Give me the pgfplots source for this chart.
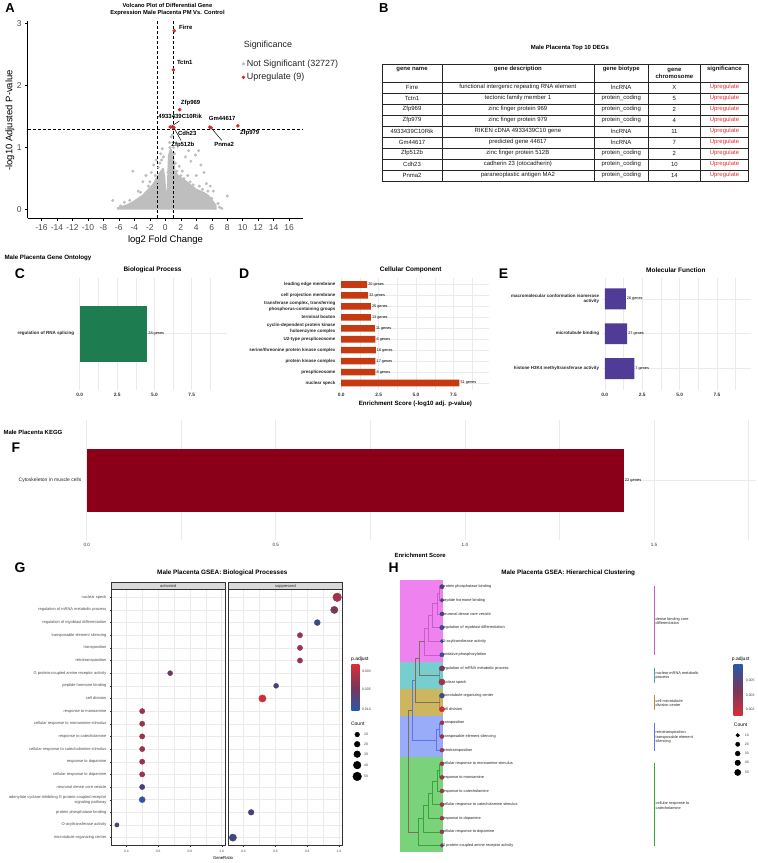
\documentclass[border=0pt]{standalone}
\usepackage{fontspec}
\setmainfont{Liberation Sans}
\usepackage{pgfplots}
\pgfplotsset{compat=1.18}
\newcommand\fs[1]{\fontsize{#1}{\dimexpr#1pt*6/5\relax}\selectfont}
\definecolor{cgrey}{RGB}{190,190,190}
\definecolor{cred}{RGB}{214,40,45}
\definecolor{cgreen}{RGB}{30,125,80}
\definecolor{corange}{RGB}{198,58,18}
\definecolor{cpurple}{RGB}{80,60,150}
\definecolor{cdarkred}{RGB}{139,0,24}
\definecolor{gridc}{RGB}{235,235,235}
\definecolor{stripc}{RGB}{217,217,217}
\definecolor{upred}{RGB}{230,50,50}
\definecolor{pbred}{RGB}{214,46,60}
\definecolor{pbmid}{RGB}{120,55,90}
\definecolor{pbblue}{RGB}{40,88,170}
\definecolor{hmag}{RGB}{238,130,238}
\definecolor{hteal}{RGB}{118,206,206}
\definecolor{holive}{RGB}{204,183,96}
\definecolor{hblue}{RGB}{152,172,250}
\definecolor{hgreen}{RGB}{122,210,122}
\definecolor{lmag}{RGB}{205,90,205}
\definecolor{lteal}{RGB}{70,170,170}
\definecolor{lolive}{RGB}{170,145,50}
\definecolor{lblue}{RGB}{95,115,230}
\definecolor{lgreen}{RGB}{55,165,55}
\definecolor{lgrey}{RGB}{130,110,95}
\pgfplotsset{
  /pgf/number format/assume math mode=true,
  colormap={rb}{rgb255(0cm)=(214,46,60) rgb255(1cm)=(160,52,75) rgb255(2cm)=(115,55,90) rgb255(3cm)=(72,66,115) rgb255(4cm)=(40,88,170)},
  onedec/.style={/pgf/number format/fixed, /pgf/number format/fixed zerofill, /pgf/number format/precision=1},
  gobar/.style={scale only axis, anchor=north west, axis line style={draw=none},
    major tick length=0pt, minor tick length=0pt,
    xmajorgrids, xminorgrids, ymajorgrids,
    major grid style={gridc, line width=0.6pt}, minor grid style={gridc, line width=0.35pt},
    y dir=reverse, xtick={0,2.5,5,7.5}, minor xtick={1.25,3.75,6.25,8.75},
    xticklabel style={font=\bfseries\fs{4.8}, text=black!80, onedec},
    yticklabel style={font=\bfseries\fs{4.5}, text=black!85, align=right},
    xmin=-0.15, xmax=9.85, clip=false},
  gsea/.style={scale only axis, anchor=north west, width=114pt, height=256.3pt,
    xmin=0.306, xmax=1.021, ymin=0.4, ymax=20.6, y dir=reverse,
    xtick={0.4,0.6,0.8,1.0}, minor xtick={0.3,0.5,0.7,0.9}, ytick={1,...,20},
    xmajorgrids, xminorgrids, ymajorgrids,
    major grid style={gridc, line width=0.4pt}, minor grid style={gridc, line width=0.2pt},
    axis line style={black!80, line width=0.5pt}, tick style={black!80, line width=0.3pt},
    major tick length=1.5pt, minor tick length=0pt, tick align=outside,
    xtick pos=left, ytick pos=left,
    xticklabel style={font=\fs{3.3}, text=black!70, onedec},
    yticklabel style={font=\fs{4}, text=black!70, align=right},
    colormap name=rb, point meta min=0.002, point meta max=0.0105, clip=false},
  dot/.style={scatter, only marks, mark=*, scatter/use mapped color={draw=mapped color, fill=mapped color},
    point meta=\thisrow{p}},
}
\newcommand\trow[6]{%
  \node at (413.3,#1) {#2}; \node at (519.5,#1) {#3}; \node at (623.2,#1) {#4};
  \node at (676.5,#1) {#5}; \node[text=upred] at (726.7,#1) {#6};}
\begin{document}
\begin{tikzpicture}
\begin{scope}[x=1pt,y=-1pt]
\path[use as bounding box] (0,0) rectangle (760,863);
\fill[white] (0,0) rectangle (760,863);
\end{scope}

% ================= A: volcano =================
\begin{axis}[scale only axis, anchor=north west, at={(27.7pt,-20pt)}, width=276.3pt, height=198.3pt,
  xmin=-17.8, xmax=17.8, ymin=-0.14, ymax=3.04, axis lines=left,
  axis line style={-, black, line width=0.5pt},
  xtick={-16,-14,...,16}, ytick={0,1,2,3},
  tick style={black, line width=0.5pt}, major tick length=2.5pt, tick align=outside,
  ticklabel style={font=\fs{8.5}, text=black!70}, clip=false,
  legend style={at={(0.7666,0.8235)}, anchor=north west, draw=none, fill=none, font=\fs{9}, text=black!85, row sep=1.5pt},
  legend cell align=left]
\addplot[fill=cgrey, draw=cgrey, line width=1.8pt, line join=round, forget plot] coordinates {
 (-6.15,0) (-6.15,0.03) (-5,0.07) (-4.2,0.12) (-2.9,0.23) (-1.6,0.4) (-0.77,0.58) (-0.3,0.66) (-0.12,0.52)
 (0.05,0.2) (0.3,0.32) (0.45,0.87) (0.7,0.97) (1.0,0.87) (1.2,0.62) (1.6,0.55) (2.5,0.47) (3.9,0.33)
 (5.0,0.27) (5.6,0.22) (6.5,0.07) (6.5,0) };
\addplot[only marks, mark=*, mark size=1.3pt, cgrey, forget plot] coordinates {
 (-6.8,0.15) (-5.3,0.12) (-4.2,0.62) (-3.5,0.3) (-2.9,0.45) (-2.5,0.55) (-2.2,0.38) (-1.8,0.6) (-1.5,0.72)
 (-1.2,0.8) (-0.9,0.68) (-0.6,0.9) (-0.4,0.98) (-0.25,0.85) (0.55,1.08) (0.75,1.17) (0.9,1.2) (1.05,1.0)
 (1.3,0.75) (1.8,0.7) (2.2,0.62) (2.6,0.85) (3.0,0.95) (3.3,0.78) (3.9,0.88) (4.3,0.95) (4.6,0.72)
 (5.0,0.6) (5.3,0.42) (5.8,0.38) (6.2,0.3) (7.0,0.04) (7.3,0.02) (8.0,0.22) (4.0,0.55) (2.9,0.55) (-1.0,0.45)
 (-3.2,0.28) (-2.0,0.45) (-1.3,0.55) (-0.7,0.75) (-0.5,0.8) (0.35,0.6) (0.6,1.0) (1.2,0.9) (1.5,0.62)
 (2.0,0.55) (2.4,0.5) (3.2,0.45) (3.6,0.4) (4.4,0.38) (4.8,0.33) (5.5,0.3) (6.0,0.18) (6.8,0.1) (-4.6,0.15) (-5.8,0.06) };
\addplot[only marks, mark=*, mark size=1.6pt, cred, forget plot] coordinates {
 (1.16,2.88) (1.03,2.25) (1.85,1.61) (9.37,1.35) (0.64,1.33) (5.76,1.33) (1.1,1.32) (0.9,1.33) (5.9,1.32) };
\addplot[black, line width=0.5pt, dash pattern=on 3pt off 2pt, forget plot] coordinates {(-1,-0.14) (-1,3.04)};
\addplot[black, line width=0.5pt, dash pattern=on 3pt off 2pt, forget plot] coordinates {(1,-0.14) (1,3.04)};
\addplot[black, line width=0.5pt, dash pattern=on 3pt off 2pt, forget plot] coordinates {(-17.8,1.301) (17.8,1.301)};
\addplot[black, line width=0.5pt, forget plot] coordinates {(5.9,1.32) (7.3,1.115)};
\addplot[black, line width=0.5pt, forget plot] coordinates {(0.75,1.34) (1.8,1.425)};
\addplot[black, line width=0.5pt, forget plot] coordinates {(1.1,1.32) (2.02,1.115)};
\begin{scope}[every node/.style={font=\bfseries\fs{6}, inner sep=0.5pt}]
\node[anchor=west] at (axis cs:1.68,2.93) {Firre};
\node[anchor=west] at (axis cs:1.42,2.37) {Tctn1};
\node[anchor=west] at (axis cs:1.93,1.71) {Zfp969};
\node at (axis cs:1.93,1.50) {4933439C10Rik};
\node at (axis cs:7.35,1.47) {Gm44617};
\node at (axis cs:10.9,1.24) {Zfp979};
\node at (axis cs:2.83,1.23) {Cdh23};
\node at (axis cs:2.26,1.05) {Zfp512b};
\node at (axis cs:7.6,1.05) {Pnma2};
\end{scope}
\addlegendimage{only marks, mark=*, mark size=1.5pt, cgrey}
\addlegendentry{Not Significant (32727)}
\addlegendimage{only marks, mark=*, mark size=1.5pt, cred}
\addlegendentry{Upregulate (9)}
\end{axis}

% ================= C, D, E: GO =================
\begin{axis}[gobar, at={(77.8pt,-278pt)}, width=149.7pt, height=112pt, ymin=0.4, ymax=1.6,
  ytick={1}, yticklabels={regulation of RNA splicing}]
\addplot[xbar, fill=cgreen, draw=none, bar width=0.6] coordinates {(4.52,1)};
\node[anchor=west, font=\fs{3.8}, inner sep=1pt] at (axis cs:4.52,1) {28 genes};
\end{axis}

\begin{axis}[gobar, at={(340.05pt,-278pt)}, width=150pt, height=112pt, ymin=0.4, ymax=10.6,
  ytick={1,...,10}, yticklabels={{leading edge membrane},{cell projection membrane},{transferase complex, transferring\\phosphorus-containing groups},{terminal bouton},{cyclin-dependent protein kinase\\holoenzyme complex},{U2-type prespliceosome},{serine/threonine protein kinase complex},{protein kinase complex},{prespliceosome},{nuclear speck}}]
\addplot[xbar, fill=corange, draw=none, bar width=0.6] coordinates {
 (1.73,1) (1.80,2) (1.98,3) (1.98,4) (2.25,5) (2.29,6) (2.31,7) (2.29,8) (2.29,9) (7.90,10)};
\begin{scope}[every node/.style={anchor=west, font=\fs{3.8}, inner sep=1pt}]
\node at (axis cs:1.73,1) {20 genes};
\node at (axis cs:1.80,2) {32 genes};
\node at (axis cs:1.98,3) {25 genes};
\node at (axis cs:1.98,4) {13 genes};
\node at (axis cs:2.25,5) {11 genes};
\node at (axis cs:2.29,6) {6 genes};
\node at (axis cs:2.31,7) {16 genes};
\node at (axis cs:2.29,8) {17 genes};
\node at (axis cs:2.29,9) {8 genes};
\node at (axis cs:7.90,10) {51 genes};
\end{scope}
\end{axis}

\begin{axis}[gobar, at={(604.45pt,-278pt)}, width=148.5pt, height=112pt, xmax=9.75, ymin=0.4, ymax=3.6,
  ytick={1,2,3}, yticklabels={{macromolecular conformation isomerase\\activity},{microtubule binding},{histone H3K4 methyltransferase activity}}]
\addplot[xbar, fill=cpurple, draw=none, bar width=0.6] coordinates {(1.40,1) (1.49,2) (1.97,3)};
\begin{scope}[every node/.style={anchor=west, font=\fs{3.8}, inner sep=1pt}]
\node at (axis cs:1.40,1) {26 genes};
\node at (axis cs:1.49,2) {27 genes};
\node at (axis cs:1.97,3) {7 genes};
\end{scope}
\end{axis}

% ================= F: KEGG =================
\begin{axis}[gobar, at={(85.1pt,-420.6pt)}, width=672.9pt, height=120.4pt, xmin=-0.005, xmax=1.769,
  ymin=0.4, ymax=1.6, xtick={0,0.5,1,1.5}, minor xtick={0.25,0.75,1.25,1.75},
  xticklabel style={font=\fs{4.6}}, yticklabel style={font=\fs{5}},
  ytick={1}, yticklabels={Cytoskeleton in muscle cells}]
\addplot[xbar, fill=cdarkred, draw=none, bar width=0.63] coordinates {(1.42,1)};
\node[anchor=west, font=\fs{4}, inner sep=1pt] at (axis cs:1.42,1) {22 genes};
\end{axis}

% ================= G: GSEA dotplot =================
\begin{axis}[gsea, at={(111.7pt,-590.7pt)},
  yticklabels={{nuclear speck},{regulation of mRNA metabolic process},{regulation of myoblast differentiation},{transposable element silencing},{transposition},{retrotransposition},{G protein-coupled amine receptor activity},{peptide hormone binding},{cell division},{response to monoamine},{cellular response to monoamine stimulus},{response to catecholamine},{cellular response to catecholamine stimulus},{response to dopamine},{cellular response to dopamine},{neuronal dense core vesicle},{adenylate cyclase-inhibiting G protein-coupled receptor\\signaling pathway},{protein phosphatase binding},{O-acyltransferase activity},{microtubule organizing center}}]
\addplot[dot, visualization depends on={1.85+0.05*\thisrow{c} \as \msz},
  scatter/@pre marker code/.append style={/tikz/mark size=\msz}] table {
x y p c
0.676 7 0.0067 13
0.5 10 0.0045 16
0.5 11 0.0045 16
0.5 12 0.0045 16
0.5 13 0.0045 16
0.5 14 0.0045 16
0.5 15 0.0045 16
0.5 16 0.0084 16
0.5 17 0.0101 23
0.341 19 0.0084 6
};
\end{axis}
\begin{axis}[gsea, at={(229.3pt,-590.7pt)}, yticklabels={}, ytick style={draw=none}]
\addplot[dot, visualization depends on={1.85+0.05*\thisrow{c} \as \msz},
  scatter/@pre marker code/.append style={/tikz/mark size=\msz}] table {
x y p c
0.989 1 0.0041 50
0.971 2 0.0058 36
0.864 3 0.0092 23
0.755 4 0.0045 16
0.755 5 0.0045 16
0.755 6 0.0045 16
0.605 8 0.0084 13
0.519 9 0.0024 36
0.448 18 0.0084 20
0.333 20 0.0088 36
};
\end{axis}
\begin{axis}[scale only axis, anchor=north west, at={(340pt,-720pt)}, width=40pt, height=70pt,
  xmin=340, xmax=380, ymin=720, ymax=790, y dir=reverse, hide axis, clip=false]
\addplot[scatter, only marks, mark=*, scatter/use mapped color={draw=black, fill=black},
  visualization depends on={1.85+0.05*\thisrow{c} \as \msz},
  scatter/@pre marker code/.append style={/tikz/mark size=\msz}] table {
x y c
358.3 736 10
358.3 745.7 20
358.3 755.7 30
358.3 766.7 40
358.3 778 50
};
\end{axis}

% ================= H: hierarchical clustering =================
\begin{axis}[scale only axis, anchor=north west, at={(380pt,-560pt)}, width=380pt, height=303pt,
  xmin=380, xmax=760, ymin=-1.028, ymax=21.15, y dir=reverse, hide axis, clip=false,
  colormap name=rb, point meta min=0.002, point meta max=0.0105]
\addplot[fill=hmag, draw=none] coordinates {(401.3,0.5) (444,0.5) (444,6.5) (401.3,6.5)};
\addplot[fill=hteal, draw=none] coordinates {(401.3,6.5) (444,6.5) (444,8.5) (401.3,8.5)};
\addplot[fill=holive, draw=none] coordinates {(401.3,8.5) (444,8.5) (444,10.5) (401.3,10.5)};
\addplot[fill=hblue, draw=none] coordinates {(401.3,10.5) (444,10.5) (444,13.5) (401.3,13.5)};
\addplot[fill=hgreen, draw=none] coordinates {(401.3,13.5) (444,13.5) (444,20.5) (401.3,20.5)};
\addplot[lmag, line width=0.5pt] coordinates {(443.3,1) (441,1) (441,2) (443.3,2)};
\addplot[lmag, line width=0.5pt] coordinates {(441,1.5) (438.3,1.5) (438.3,3) (443.3,3)};
\addplot[lmag, line width=0.5pt] coordinates {(438.3,2.25) (434,2.25) (434,4) (443.3,4)};
\addplot[lmag, line width=0.5pt] coordinates {(434,3.125) (429.3,3.125) (429.3,5) (443.3,5)};
\addplot[lmag, line width=0.5pt] coordinates {(429.3,4.06) (426,4.06) (426,6) (443.3,6)};
\addplot[lteal, line width=0.5pt] coordinates {(443.3,7) (441,7) (441,8) (443.3,8)};
\addplot[lolive, line width=0.5pt] coordinates {(443.3,9) (441,9) (441,10) (443.3,10)};
\addplot[lgrey, line width=0.5pt] coordinates {(426,5.03) (420.7,5.03) (420.7,7.5) (441,7.5)};
\addplot[lgrey, line width=0.5pt] coordinates {(420.7,6.27) (416.7,6.27) (416.7,9.5) (441,9.5)};
\addplot[lblue, line width=0.5pt] coordinates {(443.3,11) (441,11) (441,12) (443.3,12)};
\addplot[lblue, line width=0.5pt] coordinates {(441,11.5) (438,11.5) (438,13) (443.3,13)};
\addplot[lblue, line width=0.5pt] coordinates {(416.7,7.88) (413.3,7.88) (413.3,12.25) (438,12.25)};
\addplot[lgreen, line width=0.5pt] coordinates {(443.3,14) (441,14) (441,15) (443.3,15)};
\addplot[lgreen, line width=0.5pt] coordinates {(441,14.5) (438.3,14.5) (438.3,16) (443.3,16)};
\addplot[lgreen, line width=0.5pt] coordinates {(438.3,15.25) (434,15.25) (434,17) (443.3,17)};
\addplot[lgreen, line width=0.5pt] coordinates {(434,16.13) (429.3,16.13) (429.3,18) (443.3,18)};
\addplot[lgreen, line width=0.5pt] coordinates {(429.3,17.06) (425,17.06) (425,19) (443.3,19)};
\addplot[lgreen, line width=0.5pt] coordinates {(425,18.03) (420,18.03) (420,20) (443.3,20)};
\addplot[lgrey, line width=0.5pt] coordinates {(413.3,10.06) (409.3,10.06) (409.3,19.02) (420,19.02)};
\addplot[lmag, line width=0.5pt] coordinates {(656,0.93) (656,6.05)};
\addplot[lteal, line width=0.5pt] coordinates {(656,6.97) (656,8.05)};
\addplot[lolive, line width=0.5pt] coordinates {(656,8.98) (656,10.08)};
\addplot[lblue, line width=0.5pt] coordinates {(656,10.98) (656,13.08)};
\addplot[lgreen, line width=0.5pt] coordinates {(656,13.98) (656,20.03)};
\begin{scope}[every node/.style={anchor=west, font=\fs{3.9}, inner sep=0pt, text=black!85}]
\node at (axis cs:443.5,1) {protein phosphatase binding};
\node at (axis cs:443.5,2) {peptide hormone binding};
\node at (axis cs:443.5,3) {neuronal dense core vesicle};
\node at (axis cs:443.5,4) {regulation of myoblast differentiation};
\node at (axis cs:443.5,5) {O-acyltransferase activity};
\node at (axis cs:443.5,6) {oxidative phosphorylation};
\node at (axis cs:443.5,7) {regulation of mRNA metabolic process};
\node at (axis cs:443.5,8) {nuclear speck};
\node at (axis cs:443.5,9) {microtubule organizing center};
\node at (axis cs:443.5,10) {cell division};
\node at (axis cs:443.5,11) {transposition};
\node at (axis cs:443.5,12) {transposable element silencing};
\node at (axis cs:443.5,13) {retrotransposition};
\node at (axis cs:443.5,14) {cellular response to monoamine stimulus};
\node at (axis cs:443.5,15) {response to monoamine};
\node at (axis cs:443.5,16) {response to catecholamine};
\node at (axis cs:443.5,17) {cellular response to catecholamine stimulus};
\node at (axis cs:443.5,18) {response to dopamine};
\node at (axis cs:443.5,19) {cellular response to dopamine};
\node at (axis cs:443.5,20) {G protein-coupled amine receptor activity};
\end{scope}
\begin{scope}[every node/.style={anchor=west, font=\fs{3.9}, inner sep=0pt, text=black!85, align=left}]
\node at (axis cs:657.5,3.53) {dense binding core\\differentiation};
\node at (axis cs:657.5,7.52) {nuclear mRNA metabolic\\process};
\node at (axis cs:657.5,9.54) {cell microtubule\\division center};
\node at (axis cs:657.5,12.05) {retrotransposition\\transposable element\\silencing};
\node at (axis cs:657.5,17.08) {cellular response to\\catecholamine};
\end{scope}
\addplot[dot, visualization depends on={1.5+0.032*\thisrow{c} \as \msz},
  scatter/@pre marker code/.append style={/tikz/mark size=\msz}] table {
x y p c
443.3 1 0.0084 20
443.3 2 0.0080 13
443.3 3 0.0088 16
443.3 4 0.0092 23
443.3 5 0.0092 6
443.3 6 0.0095 20
443.3 7 0.0058 36
443.3 8 0.0041 50
443.3 9 0.0092 30
443.3 10 0.0024 36
443.3 11 0.0045 16
443.3 12 0.0045 16
443.3 13 0.0045 16
443.3 14 0.0045 16
443.3 15 0.0045 16
443.3 16 0.0045 16
443.3 17 0.0045 16
443.3 18 0.0045 16
443.3 19 0.0045 16
443.3 20 0.0067 13
};
\addplot[scatter, only marks, mark=*, scatter/use mapped color={draw=black, fill=black},
  visualization depends on={1.5+0.032*\thisrow{c} \as \msz},
  scatter/@pre marker code/.append style={/tikz/mark size=\msz}] table {
x y c
740 11.91 10
740 12.57 20
740 13.25 30
740 13.93 40
740 14.64 50
};
\end{axis}

% ================= all free text, table, legends =================
\begin{scope}[x=1pt,y=-1pt]
\node[font=\bfseries\fs{13}] at (10,7) {A};
\node[font=\bfseries\fs{5.8}, align=center] at (168,9) {Volcano Plot of Differential Gene\\Expression Male Placenta PM Vs. Control};
\node[anchor=west, font=\fs{9}, text=black!85] at (241,45) {Significance};
\node[font=\fs{9.5}] at (166,240) {log2 Fold Change};
\node[font=\fs{9.5}, rotate=90] at (10,120) {-log10 Adjusted P-value};

\node[font=\bfseries\fs{13}] at (385,7) {B};
\node[font=\bfseries\fs{6}] at (571.7,47.3) {Male Placenta Top 10 DEGs};
\begin{scope}[line width=0.5pt, black!85]
\draw (383.3,63.3) rectangle (751,181);
\draw (383.3,81.7) -- (751,81.7);
\foreach \y in {92.73,103.77,114.8,125.83,136.87,147.9,158.93,169.97} \draw (383.3,\y)--(751,\y);
\foreach \x in {443.3,595.7,650.7,702.3} \draw (\x,63.3)--(\x,181);
\end{scope}
\begin{scope}[every node/.style={font=\bfseries\fs{6}, inner sep=0pt, text=black!90}]
\node at (413.3,68.6) {gene name};
\node at (519.5,68.6) {gene description};
\node at (623.2,68.6) {gene biotype};
\node[align=center] at (676.5,72.8) {gene\\chromosome};
\node at (726.7,68.6) {significance};
\end{scope}
\begin{scope}[every node/.style={font=\fs{6}, inner sep=0pt, text=black!90}]
\trow{86.6}{Firre}{functional intergenic repeating RNA element}{lncRNA}{X}{Upregulate}
\trow{97.6}{Tctn1}{tectonic family member 1}{protein\_coding}{5}{Upregulate}
\trow{108.6}{Zfp969}{zinc finger protein 969}{protein\_coding}{2}{Upregulate}
\trow{119.7}{Zfp979}{zinc finger protein 979}{protein\_coding}{4}{Upregulate}
\trow{130.7}{4933439C10Rik}{RIKEN cDNA 4933439C10 gene}{lncRNA}{11}{Upregulate}
\trow{141.8}{Gm44617}{predicted gene 44617}{lncRNA}{7}{Upregulate}
\trow{152.8}{Zfp512b}{zinc finger protein 512B}{protein\_coding}{2}{Upregulate}
\trow{163.8}{Cdh23}{cadherin 23 (otocadherin)}{protein\_coding}{10}{Upregulate}
\trow{174.9}{Pnma2}{paraneoplastic antigen MA2}{protein\_coding}{14}{Upregulate}
\end{scope}

\node[anchor=west, font=\bfseries\fs{6.2}] at (1,258.3) {Male Placenta Gene Ontology};
\node[font=\bfseries\fs{14}] at (20,274) {C};
\node[font=\bfseries\fs{14}] at (245,274) {D};
\node[font=\bfseries\fs{14}] at (505,274) {E};
\node[font=\bfseries\fs{6.5}] at (153,270.3) {Biological Process};
\node[font=\bfseries\fs{6.5}] at (412,270.3) {Cellular Component};
\node[font=\bfseries\fs{6.5}] at (678,270.3) {Molecular Function};
\node[font=\bfseries\fs{6.2}] at (416.7,404) {Enrichment Score (-log10 adj. p-value)};

\node[anchor=west, font=\bfseries\fs{6}] at (0,433) {Male Placenta KEGG};
\node[font=\bfseries\fs{14}] at (16,448) {F};
\node[font=\bfseries\fs{6}] at (421.5,556.7) {Enrichment Score};

\node[font=\bfseries\fs{14}] at (20,569) {G};
\node[font=\bfseries\fs{6.4}] at (223,574) {Male Placenta GSEA: Biological Processes};
\draw[fill=stripc, draw=black!80, line width=0.5pt] (111.7,583.3) rectangle (225.7,590.7);
\draw[fill=stripc, draw=black!80, line width=0.5pt] (229.3,583.3) rectangle (343.3,590.7);
\node[font=\fs{4}, text=black!85] at (168.7,587) {activated};
\node[font=\fs{4}, text=black!85] at (286.3,587) {suppressed};
\node[font=\fs{4.2}] at (223.7,860) {GeneRatio};
\node[anchor=west, font=\fs{5}, inner sep=0pt] at (352,660) {p.adjust};
\shade[top color=pbred, bottom color=pbblue, middle color=pbmid] (352.5,666) rectangle (360.5,712);
\begin{scope}[every node/.style={anchor=west, font=\fs{3.5}, inner sep=0pt, text=black!75}]
\node at (363,672.3) {0.003};
\node at (363,691) {0.005};
\node at (363,710.3) {0.010};
\node at (365,736) {10};
\node at (365,745.7) {20};
\node at (365,755.7) {30};
\node at (365,766.7) {40};
\node at (365,778) {50};
\end{scope}
\node[anchor=west, font=\fs{5}, inner sep=0pt] at (352,725.7) {Count};

\node[font=\bfseries\fs{14}] at (395,569) {H};
\node[font=\bfseries\fs{6.3}] at (570,574) {Male Placenta GSEA: Hierarchical Clustering};
\node[anchor=west, font=\fs{5}, inner sep=0pt] at (734,660) {p.adjust};
\shade[top color=pbblue, bottom color=pbred, middle color=pbmid] (736,666) rectangle (745,717);
\begin{scope}[every node/.style={anchor=west, font=\fs{3.5}, inner sep=0pt, text=black!75}]
\node at (748,681.7) {0.005};
\node at (748,696.7) {0.003};
\node at (748,711) {0.002};
\node at (747,736.7) {10};
\node at (747,745.7) {20};
\node at (747,755) {30};
\node at (747,764.3) {40};
\node at (747,774) {50};
\end{scope}
\node[anchor=west, font=\fs{5}, inner sep=0pt] at (736,726.7) {Count};
\end{scope}
\end{tikzpicture}
\end{document}
